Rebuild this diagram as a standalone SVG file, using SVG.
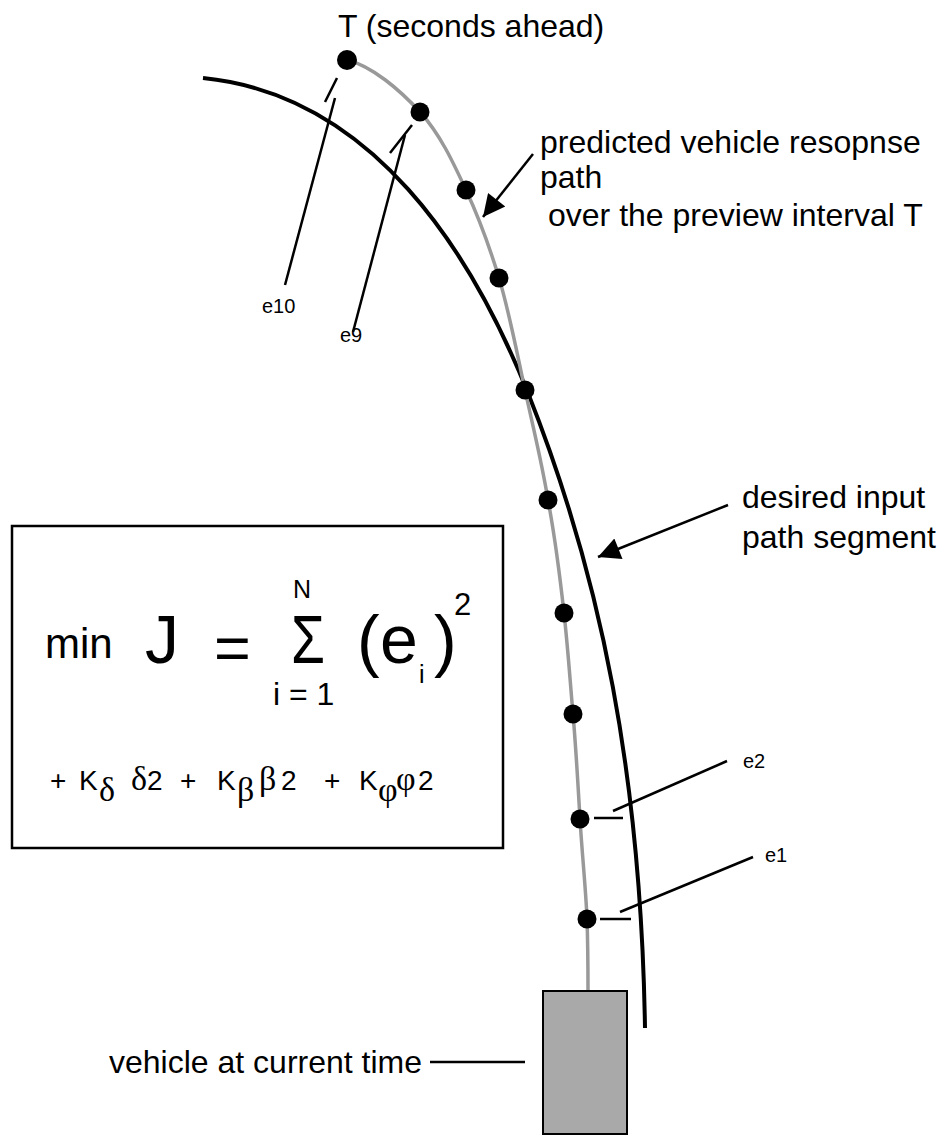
<svg xmlns="http://www.w3.org/2000/svg" width="947" height="1135" viewBox="0 0 947 1135">
<defs>
<style>
.t{font-family:"Liberation Sans",Arial,sans-serif;fill:#000}
.g{font-family:"Liberation Serif","Times New Roman",serif;fill:#000}
.lead{stroke:#000;stroke-width:2.5;fill:none}
.dot{fill:#000}
</style>
<marker id="ah" viewBox="0 0 10 10" refX="10" refY="5" markerUnits="userSpaceOnUse" markerWidth="28" markerHeight="22" orient="auto">
<path d="M0,0 L10,5 L0,10 z" fill="#000"/>
</marker>
</defs>
<rect width="947" height="1135" fill="#fff"/>

<g id="desired-path">
<path d="M203,78 C373,95 472,253 528,393 C602,579 641,778 645,1028" fill="none" stroke="#000" stroke-width="4"/>
</g>

<g id="predicted-path">
<path d="M347,60 C372,66 400,90 420,112 C440,134 453,162 466,190 C479,218 489,245 499,278 C509,311 517,353 525,390 C533,427 542,463 548,500 C555,537 560,577 564,613 C568,649 570,680 573,714 C576,748 578,785 580,819 C582,853 586,891 587,919 C588,948 588,970 588,990" fill="none" stroke="#999" stroke-width="3.5"/>
</g>

<g id="vehicle">
<rect x="543" y="991" width="84" height="143" fill="#a9a9a9" stroke="#000" stroke-width="2"/>
</g>

<g id="points">
<circle class="dot" cx="347" cy="60" r="10"/>
<circle class="dot" cx="420" cy="112" r="9.5"/>
<circle class="dot" cx="466" cy="190" r="9.5"/>
<circle class="dot" cx="499" cy="278" r="9.5"/>
<circle class="dot" cx="525" cy="390" r="9.5"/>
<circle class="dot" cx="548" cy="500" r="9.5"/>
<circle class="dot" cx="564" cy="613" r="9.5"/>
<circle class="dot" cx="573" cy="714" r="9.5"/>
<circle class="dot" cx="580" cy="819" r="9.5"/>
<circle class="dot" cx="587" cy="919" r="9.5"/>
</g>

<g id="connectors">
<line class="lead" x1="325" y1="102" x2="337" y2="78"/>
<line class="lead" x1="285" y1="285" x2="335" y2="98"/>
<line class="lead" x1="390" y1="153" x2="412" y2="125"/>
<line class="lead" x1="353" y1="332" x2="405" y2="135"/>
<line class="lead" x1="594" y1="818" x2="623" y2="818"/>
<line class="lead" x1="613" y1="811" x2="727" y2="761"/>
<line class="lead" x1="600" y1="919" x2="631" y2="919"/>
<line class="lead" x1="620" y1="912" x2="753" y2="857"/>
<line class="lead" x1="430" y1="1062" x2="525" y2="1062"/>
<line class="lead" x1="533" y1="154" x2="483" y2="217" marker-end="url(#ah)"/>
<line class="lead" x1="728" y1="505" x2="598" y2="557" marker-end="url(#ah)"/>
</g>

<g id="labels">
<text class="t" x="338" y="37" font-size="32">T (seconds ahead)</text>
<text class="t" x="540" y="153" font-size="32">predicted vehicle resopnse</text>
<text class="t" x="540" y="188" font-size="32">path</text>
<text class="t" x="548" y="226" font-size="32">over the preview interval T</text>
<text class="t" x="742" y="508" font-size="32">desired input</text>
<text class="t" x="742" y="548" font-size="32">path segment</text>
<text class="t" x="109" y="1073" font-size="32">vehicle at current time</text>
<text class="t" x="262" y="313" font-size="20">e10</text>
<text class="t" x="340" y="342" font-size="20">e9</text>
<text class="t" x="743" y="768" font-size="20">e2</text>
<text class="t" x="765" y="862" font-size="20">e1</text>
</g>

<g id="formula-box">
<rect x="12" y="526" width="491" height="322" fill="none" stroke="#000" stroke-width="2.5"/>
<text class="t" x="45" y="658" font-size="42">min</text>
<text class="t" x="145" y="663" font-size="68">J</text>
<text class="t" x="214" y="670" font-size="63">=</text>
<text class="t" x="291" y="663" font-size="68" textLength="34" lengthAdjust="spacingAndGlyphs">Σ</text>
<text class="t" x="293" y="598" font-size="25">N</text>
<text class="t" x="273" y="705" font-size="32">i = 1</text>
<text class="t" x="357" y="664" font-size="68">(</text>
<text class="t" x="380" y="663" font-size="68">e</text>
<text class="t" x="419" y="683" font-size="25">i</text>
<text class="t" x="434" y="664" font-size="68">)</text>
<text class="t" x="454" y="615" font-size="31">2</text>
<text class="t" x="50" y="790" font-size="28">+</text>
<text class="t" x="79" y="790" font-size="28">K</text>
<text class="g" x="99" y="801" font-size="34">δ</text>
<text class="g" x="131" y="790" font-size="34">δ</text>
<text class="t" x="147" y="790" font-size="28">2</text>
<text class="t" x="180" y="790" font-size="28">+</text>
<text class="t" x="217" y="790" font-size="28">K</text>
<text class="g" x="237" y="801" font-size="34">β</text>
<text class="g" x="259" y="790" font-size="34">β</text>
<text class="t" x="281" y="790" font-size="28">2</text>
<text class="t" x="324" y="790" font-size="28">+</text>
<text class="t" x="359" y="790" font-size="28">K</text>
<text class="g" x="378" y="801" font-size="34">φ</text>
<text class="g" x="396" y="790" font-size="34">φ</text>
<text class="t" x="418" y="790" font-size="28">2</text>
</g>
</svg>
